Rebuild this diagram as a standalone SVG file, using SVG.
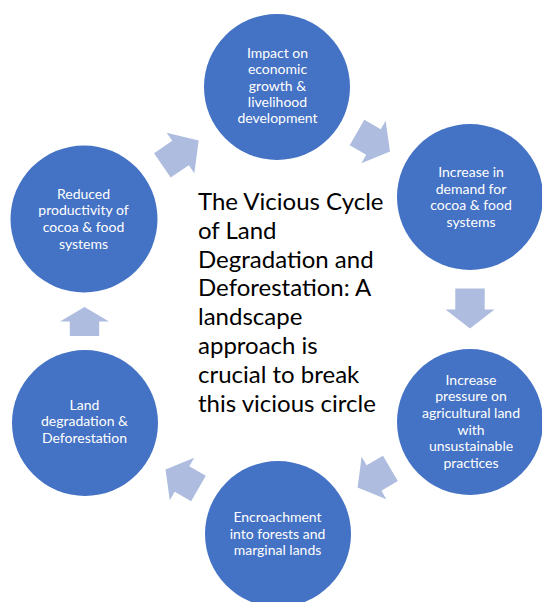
<svg xmlns="http://www.w3.org/2000/svg" width="542" height="602" viewBox="0 0 542 602">
<style>
.node circle{fill:#4472C4}
.node text{fill:#FFFFFF;font-family:Lato,"Liberation Sans",sans-serif;font-size:14px;text-anchor:middle}
.arrow{fill:#AEBCDF}
.title{fill:#000000;font-family:Lato,"Liberation Sans",sans-serif;font-size:24px}
</style>
<rect width="542" height="602" fill="#FFFFFF"/>
<g id="connectors">
<path class="arrow" transform="translate(373.5,142) rotate(29.7)" d="M-19,-14.7 H0 V-24.5 L19,0 L0,24.5 V14.7 H-19 Z"/>
<path class="arrow" transform="translate(470,308.5) rotate(90)" d="M-20,-14.7 H1 V-24.5 L20,0 L1,24.5 V14.7 H-20 Z"/>
<path class="arrow" transform="translate(374,478) rotate(149.7)" d="M-19,-14.7 H0 V-24.5 L19,0 L0,24.5 V14.7 H-19 Z"/>
<path class="arrow" transform="translate(182,479) rotate(-150.1)" d="M-19,-14.7 H0 V-24.5 L19,0 L0,24.5 V14.7 H-19 Z"/>
<path class="arrow" transform="translate(84.5,321.5) rotate(-90)" d="M-14.5,-14.7 H0 V-24.5 L14.5,0 L0,24.5 V14.7 H-14.5 Z"/>
<path class="arrow" transform="translate(180.5,153) rotate(-34.4)" d="M-22,-14.7 H0 V-24.5 L22,0 L0,24.5 V14.7 H-22 Z"/>
</g>
<g id="node-impact" class="node">
<circle cx="277" cy="87" r="73"/>
<text x="277.5" y="57.5">Impact on</text>
<text x="277.5" y="74">economic</text>
<text x="277.5" y="90.5">growth &amp;</text>
<text x="277.5" y="106.5">livelihood</text>
<text x="277.5" y="122.5">development</text>
</g>
<g id="node-demand" class="node">
<circle cx="470" cy="197" r="73"/>
<text x="471" y="177">Increase in</text>
<text x="471" y="193.5">demand for</text>
<text x="471" y="210">cocoa &amp; food</text>
<text x="471" y="227">systems</text>
</g>
<g id="node-pressure" class="node">
<circle cx="470" cy="422" r="73"/>
<text x="471" y="384.5">Increase</text>
<text x="471" y="401">pressure on</text>
<text x="471" y="417.5">agricultural land</text>
<text x="471" y="434.5">with</text>
<text x="471" y="451">unsustainable</text>
<text x="471" y="467.5">practices</text>
</g>
<g id="node-encroachment" class="node">
<circle cx="278" cy="534" r="73"/>
<text x="277.5" y="522">Encroachment</text>
<text x="277.5" y="538.5">into forests and</text>
<text x="277.5" y="554.5">marginal lands</text>
</g>
<g id="node-degradation" class="node">
<circle cx="85" cy="423" r="73"/>
<text x="84.5" y="409.5">Land</text>
<text x="84.5" y="426">degradation &amp;</text>
<text x="84.5" y="442.5">Deforestation</text>
</g>
<g id="node-productivity" class="node">
<circle cx="84" cy="219" r="73.5"/>
<text x="83.5" y="198.5">Reduced</text>
<text x="83.5" y="215">productivity of</text>
<text x="83.5" y="231.5">cocoa &amp; food</text>
<text x="83.5" y="249">systems</text>
</g>
<g id="title">
<text class="title" x="198" y="210">The Vicious Cycle</text>
<text class="title" x="198" y="239">of Land</text>
<text class="title" x="198" y="268">Degradation and</text>
<text class="title" x="198" y="296">Deforestation: A</text>
<text class="title" x="198" y="325">landscape</text>
<text class="title" x="198" y="354">approach is</text>
<text class="title" x="198" y="383">crucial to break</text>
<text class="title" x="198" y="412">this vicious circle</text>
</g>
</svg>
